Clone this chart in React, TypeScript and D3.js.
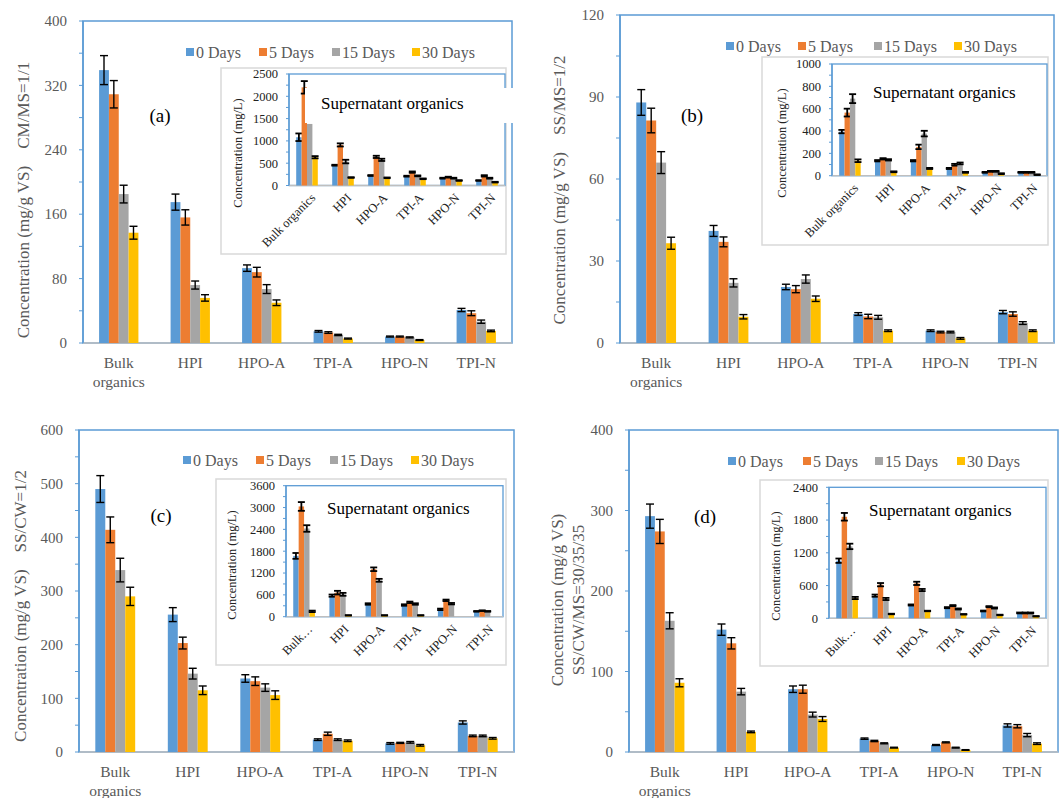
import React from "react";
import * as d3 from "d3";

const categories = ["Bulk organics", "HPI", "HPO-A", "TPI-A", "HPO-N", "TPI-N"];
const insetLabelsFull = ["Bulk organics", "HPI", "HPO-A", "TPI-A", "HPO-N", "TPI-N"];
const insetLabelsShort = ["Bulk…", "HPI", "HPO-A", "TPI-A", "HPO-N", "TPI-N"];
const seriesNames = ["0 Days", "5 Days", "15 Days", "30 Days"];
const seriesColors = ["#5B9BD5", "#ED7D31", "#A5A5A5", "#FFC000"];

// Panel (a) CM/MS=1/1 — rows: 0, 5, 15, 30 days
const aMainVal = [
  [339, 175, 93, 14.5, 8, 41],
  [309, 156, 88, 13, 8, 37],
  [185, 72, 67, 10, 7, 26.5],
  [137, 56, 50, 5.5, 3.7, 15],
];
const aMainErr = [
  [18, 10, 4, 1, 0.6, 2],
  [17, 9.5, 6, 1, 0.6, 3],
  [11, 5, 5.5, 0.8, 0.6, 2],
  [8, 4, 3.5, 0.6, 0.5, 1],
];
const aInsetVal = [
  [1082, 455, 224, 209, 164, 112],
  [2201, 910, 642, 300, 187, 216],
  [1380, 537, 575, 216, 164, 164],
  [634, 179, 172, 150, 112, 75],
];
const aInsetErr = [
  [85, 10, 10, 10, 10, 8],
  [140, 35, 25, 15, 10, 15],
  [0, 40, 25, 10, 10, 10],
  [25, 8, 8, 8, 8, 8],
];

// Panel (b) SS/MS=1/2
const bMainVal = [
  [88, 41, 20.5, 10.6, 4.5, 11.3],
  [81.4, 37, 19.7, 9.7, 4, 10.6],
  [66, 22, 23.4, 9.4, 4, 7.3],
  [36.5, 9.6, 16.2, 4.5, 1.7, 4.5],
];
const bMainErr = [
  [4.7, 2, 1, 0.5, 0.3, 0.6],
  [4.5, 1.8, 1.3, 0.8, 0.3, 0.8],
  [4, 1.5, 1.5, 0.7, 0.3, 0.5],
  [2.2, 0.8, 1, 0.3, 0.3, 0.3],
];
const bInsetVal = [
  [395, 134, 134, 65, 30, 30],
  [565, 151, 258, 98, 39, 30],
  [690, 142, 377, 110, 39, 30],
  [134, 35, 65, 30, 18, 9],
];
const bInsetErr = [
  [15, 6, 6, 5, 4, 4],
  [35, 6, 20, 8, 4, 4],
  [40, 6, 25, 8, 4, 4],
  [12, 4, 5, 4, 4, 3],
];

// Panel (c) SS/CW=1/2
const cMainVal = [
  [490, 256, 137, 23, 16, 55],
  [414, 203, 132, 34, 17, 30],
  [339, 146, 120, 23, 18, 30],
  [290, 115, 106, 21, 12.5, 25.5],
];
const cMainErr = [
  [25, 13, 7, 1.5, 1.5, 3],
  [24, 11, 8, 3, 1, 1.5],
  [22, 10, 7, 1.5, 1.5, 1.5],
  [17, 8, 8, 1.5, 1.5, 1.5],
];
const cInsetVal = [
  [1671, 579, 349, 321, 202, 147],
  [3030, 661, 1304, 395, 450, 165],
  [2424, 615, 1000, 349, 358, 147],
  [147, 37, 37, 37, 0, 0],
];
const cInsetErr = [
  [80, 30, 20, 20, 20, 10],
  [120, 50, 50, 20, 20, 10],
  [90, 40, 40, 20, 20, 10],
  [20, 5, 5, 5, 0, 0],
];

// Panel (d) SS/CW/MS=30/35/35
const dMainVal = [
  [293, 152, 78, 16.6, 8.7, 33],
  [274, 135, 78, 13.7, 12, 32],
  [163, 75, 46.5, 10.8, 5.4, 21],
  [86, 25, 41, 5.4, 2.5, 10.4],
];
const dMainErr = [
  [15, 7, 4, 0.8, 0.6, 2],
  [15, 7, 5, 0.8, 0.6, 2],
  [10, 4, 3, 0.6, 0.5, 2],
  [5, 1, 3, 0.5, 0.4, 1],
];
const dInsetVal = [
  [1055, 415, 244, 195, 134, 98],
  [1860, 616, 640, 232, 213, 98],
  [1317, 354, 518, 171, 189, 98],
  [372, 79, 134, 73, 61, 37],
];
const dInsetErr = [
  [40, 20, 10, 10, 8, 8],
  [70, 30, 30, 10, 10, 8],
  [50, 20, 20, 10, 10, 8],
  [20, 5, 5, 5, 5, 4],
];

const FONT = "Liberation Serif";
const GRAY_TEXT = "#595959";
const FRAME = "#5B9BD5";

type MainCfg = {
  left: number; right: number; top: number; bottom: number;
  yMax: number; major: number; minor: number;
  vals: number[][]; errs: number[][];
  legendY: number; legendX: number[];
  tag: string; tagX: number; tagY: number;
  ylab: string[]; ylabX: number[]; ylabY: number;
};

type InsetCfg = {
  outer: [number, number, number, number];
  left: number; right: number; top: number; bottom: number;
  yMax: number; major: number; minor: number;
  vals: number[][]; errs: number[][];
  labels: string[];
  titleX: number; titleY: number;
  supX: number; supY: number;
  patch?: [number, number, number, number];
};

const mains: MainCfg[] = [
  { left: 83, right: 512, top: 21, bottom: 343, yMax: 400, major: 80, minor: 40,
    vals: aMainVal, errs: aMainErr, legendY: 52, legendX: [190, 263, 336, 416],
    tag: "(a)", tagX: 160, tagY: 115,
    ylab: ["Concentration (mg/g VS)    CM/MS=1/1"], ylabX: [23], ylabY: 200 },
  { left: 620, right: 1054, top: 15, bottom: 343, yMax: 120, major: 30, minor: 15,
    vals: bMainVal, errs: bMainErr, legendY: 46, legendX: [730, 802, 878, 958],
    tag: "(b)", tagX: 692, tagY: 115,
    ylab: ["Concentration (mg/g VS)    SS/MS=1/2"], ylabX: [559], ylabY: 190 },
  { left: 79, right: 514, top: 430, bottom: 752, yMax: 600, major: 100, minor: 50,
    vals: cMainVal, errs: cMainErr, legendY: 460, legendX: [187, 260, 334, 415],
    tag: "(c)", tagX: 161, tagY: 515,
    ylab: ["Concentration (mg/g VS)    SS/CW=1/2"], ylabX: [20], ylabY: 606 },
  { left: 629, right: 1058, top: 430, bottom: 752, yMax: 400, major: 100, minor: 50,
    vals: dMainVal, errs: dMainErr, legendY: 461, legendX: [732, 807, 879, 961],
    tag: "(d)", tagX: 705, tagY: 516,
    ylab: ["Concentration (mg/g VS)", "SS/CW/MS=30/35/35"], ylabX: [557, 578], ylabY: 600 },
];

const insets: InsetCfg[] = [
  { outer: [221, 68, 506, 254], left: 289, right: 505, top: 74, bottom: 185.5,
    yMax: 2500, major: 500, minor: 250, vals: aInsetVal, errs: aInsetErr,
    labels: insetLabelsFull, titleX: 238, titleY: 153, supX: 321, supY: 103,
    patch: [305, 88, 516, 123] },
  { outer: [762, 57, 1048, 245], left: 832, right: 1047, top: 64, bottom: 175.7,
    yMax: 1000, major: 200, minor: 100, vals: bInsetVal, errs: bInsetErr,
    labels: insetLabelsFull, titleX: 782, titleY: 143, supX: 873, supY: 92 },
  { outer: [216, 479, 506, 665], left: 286, right: 503, top: 485.7, bottom: 616.7,
    yMax: 3600, major: 600, minor: 300, vals: cInsetVal, errs: cInsetErr,
    labels: insetLabelsShort, titleX: 232, titleY: 565, supX: 327, supY: 508 },
  { outer: [760, 480, 1048, 666], left: 829, right: 1046, top: 487.3, bottom: 618.3,
    yMax: 2400, major: 600, minor: 300, vals: dInsetVal, errs: dInsetErr,
    labels: insetLabelsShort, titleX: 776, titleY: 566, supX: 869, supY: 510 },
];

function Bars({ vals, errs, x, y, groupFrac, capW, errW }: any) {
  const bw = x.bandwidth();
  const groupW = bw * groupFrac;
  const sx = d3.scaleBand().domain(seriesNames).range([0, groupW]);
  const out: any[] = [];
  seriesNames.forEach((s, si) => {
    categories.forEach((c, ci) => {
      const v = vals[si][ci];
      const e = errs[si][ci];
      const bx = (x(c) as number) + (bw - groupW) / 2 + (sx(s) as number);
      const w = sx.bandwidth();
      if (v > 0) {
        out.push(
          <rect key={`b${si}-${ci}`} x={bx} y={y(v)} width={w} height={y(0) - y(v)} fill={seriesColors[si]} />
        );
      }
      if (e > 0) {
        const cx = bx + w / 2;
        out.push(
          <g key={`e${si}-${ci}`} stroke="#000" strokeWidth={errW}>
            <line x1={cx} x2={cx} y1={y(v + e)} y2={y(v - e)} />
            <line x1={cx - capW / 2} x2={cx + capW / 2} y1={y(v + e)} y2={y(v + e)} />
            <line x1={cx - capW / 2} x2={cx + capW / 2} y1={y(v - e)} y2={y(v - e)} />
          </g>
        );
      }
    });
  });
  return <g>{out}</g>;
}

function MainChart({ cfg }: { cfg: MainCfg }) {
  const x = d3.scaleBand().domain(categories).range([cfg.left, cfg.right]);
  const y = d3.scaleLinear().domain([0, cfg.yMax]).range([cfg.bottom, cfg.top]);
  const minorTicks = d3.range(0, cfg.yMax + 0.001, cfg.minor);
  const majorTicks = d3.range(0, cfg.yMax + 0.001, cfg.major);
  return (
    <g>
      <rect x={cfg.left} y={cfg.top} width={cfg.right - cfg.left} height={cfg.bottom - cfg.top}
        fill="none" stroke={FRAME} strokeWidth={1.5} />
      <line x1={cfg.left} x2={cfg.right} y1={cfg.bottom} y2={cfg.bottom} stroke="#BFBFBF" strokeWidth={1.5} />
      <line x1={cfg.left} x2={cfg.left} y1={cfg.top} y2={cfg.bottom} stroke={FRAME} strokeWidth={1.5} />
      {minorTicks.map((t) => (
        <line key={`t${t}`} x1={cfg.left - 4} x2={cfg.left} y1={y(t)} y2={y(t)} stroke={FRAME} strokeWidth={1} />
      ))}
      {majorTicks.map((t) => (
        <text key={`l${t}`} x={cfg.left - 16} y={y(t)} dy="0.35em" textAnchor="end"
          fontSize={15} fill={GRAY_TEXT} fontFamily={FONT}>{t}</text>
      ))}
      {categories.map((c) => {
        const cx = (x(c) as number) + x.bandwidth() / 2;
        const parts = c === "Bulk organics" ? ["Bulk", "organics"] : [c];
        return (
          <text key={c} x={cx} y={cfg.bottom + 25} textAnchor="middle" fontSize={15.5}
            fill={GRAY_TEXT} fontFamily={FONT}>
            {parts.map((p, i) => (
              <tspan key={p} x={cx} dy={i === 0 ? 0 : 19}>{p}</tspan>
            ))}
          </text>
        );
      })}
      <Bars vals={cfg.vals} errs={cfg.errs} x={x} y={y} groupFrac={0.55} capW={8} errW={1.4} />
      {cfg.ylab.map((t, i) => (
        <text key={t} transform={`translate(${cfg.ylabX[i]},${cfg.ylabY}) rotate(-90)`}
          textAnchor="middle" dy="0.35em" fontSize={17} fill={GRAY_TEXT} fontFamily={FONT}
          style={{ whiteSpace: "pre" }}>{t}</text>
      ))}
      {seriesNames.map((s, i) => (
        <g key={s}>
          <rect x={cfg.legendX[i] - 4} y={cfg.legendY - 4} width={8} height={8} fill={seriesColors[i]} />
          <text x={cfg.legendX[i] + 6} y={cfg.legendY} dy="0.35em" fontSize={16} fill={GRAY_TEXT}
            fontFamily={FONT}>{s}</text>
        </g>
      ))}
      <text x={cfg.tagX} y={cfg.tagY} dy="0.35em" textAnchor="middle" fontSize={19} fill="#000"
        fontFamily={FONT}>{cfg.tag}</text>
    </g>
  );
}

function Inset({ cfg }: { cfg: InsetCfg }) {
  const x = d3.scaleBand().domain(categories).range([cfg.left, cfg.right]);
  const y = d3.scaleLinear().domain([0, cfg.yMax]).range([cfg.bottom, cfg.top]);
  const minorTicks = d3.range(0, cfg.yMax + 0.001, cfg.minor);
  const majorTicks = d3.range(0, cfg.yMax + 0.001, cfg.major);
  const [ox0, oy0, ox1, oy1] = cfg.outer;
  return (
    <g>
      <rect x={ox0} y={oy0} width={ox1 - ox0} height={oy1 - oy0} fill="#fff" stroke="#D9D9D9" strokeWidth={1.5} />
      <rect x={cfg.left} y={cfg.top} width={cfg.right - cfg.left} height={cfg.bottom - cfg.top}
        fill="none" stroke={FRAME} strokeWidth={1.3} />
      <line x1={cfg.left} x2={cfg.right} y1={cfg.bottom} y2={cfg.bottom} stroke="#BFBFBF" strokeWidth={1.3} />
      <line x1={cfg.left} x2={cfg.left} y1={cfg.top} y2={cfg.bottom} stroke={FRAME} strokeWidth={1.3} />
      {minorTicks.map((t) => (
        <line key={`t${t}`} x1={cfg.left - 3} x2={cfg.left} y1={y(t)} y2={y(t)} stroke={FRAME} strokeWidth={1} />
      ))}
      {majorTicks.map((t) => (
        <text key={`l${t}`} x={cfg.left - 11} y={y(t)} dy="0.35em" textAnchor="end"
          fontSize={12.5} fill="#222" fontFamily={FONT}>{t}</text>
      ))}
      {categories.map((c, i) => {
        const cx = (x(c) as number) + x.bandwidth() / 2;
        return (
          <text key={c} transform={`translate(${cx + 6},${cfg.bottom + 10}) rotate(-45)`}
            textAnchor="end" dy="0.35em" fontSize={12.5} fill="#222" fontFamily={FONT}>{cfg.labels[i]}</text>
        );
      })}
      <Bars vals={cfg.vals} errs={cfg.errs} x={x} y={y} groupFrac={0.6} capW={7} errW={1.8} />
      <text transform={`translate(${cfg.titleX},${cfg.titleY}) rotate(-90)`} textAnchor="middle"
        dy="0.35em" fontSize={12.5} fill="#222" fontFamily={FONT}>Concentration (mg/L)</text>
      {cfg.patch ? (
        <rect x={cfg.patch[0]} y={cfg.patch[1]} width={cfg.patch[2] - cfg.patch[0]}
          height={cfg.patch[3] - cfg.patch[1]} fill="#fff" />
      ) : null}
      <text x={cfg.supX} y={cfg.supY} dy="0.35em" fontSize={17} fill="#000" fontFamily={FONT}>
        Supernatant organics
      </text>
    </g>
  );
}

export default function App() {
  return (
    <svg width={1062} height={798} style={{ position: "absolute", left: 0, top: 0, background: "#fff" }}
      xmlns="http://www.w3.org/2000/svg">
      <rect x={0} y={0} width={1062} height={798} fill="#fff" />
      {mains.map((m, i) => (
        <g key={`p${i}`}>
          <MainChart cfg={m} />
          <Inset cfg={insets[i]} />
        </g>
      ))}
    </svg>
  );
}
